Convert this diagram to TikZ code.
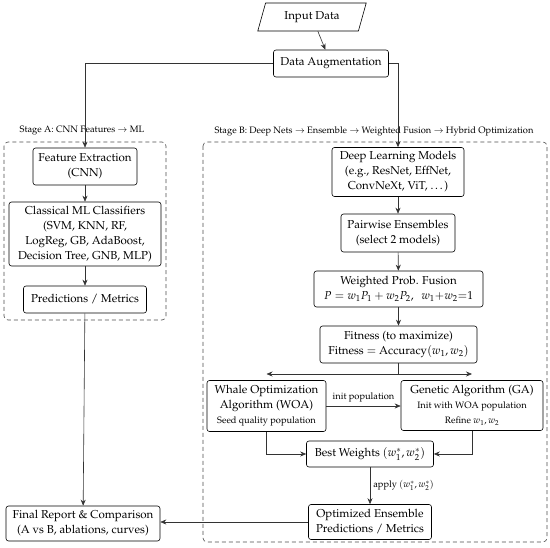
\documentclass[tikz,border=0pt]{standalone}
\usepackage[T1]{fontenc}
\usepackage{mathpazo}
\usetikzlibrary{arrows.meta,shapes.geometric,positioning}
\newcommand\mainfs{\fontsize{11.5}{15}\selectfont}
\newcommand\smallfs{\fontsize{9.3}{13}\selectfont}
\tikzset{
  box/.style={draw, rounded corners=2.5pt, align=center, inner sep=1pt, font=\mainfs, line width=0.6pt},
  conn/.style={line width=0.6pt, draw=black!80},
  arr/.style={conn, -{Stealth[length=6pt,width=5pt]}},
  darr/.style={conn, {Stealth[length=6pt,width=5pt]}-{Stealth[length=6pt,width=5pt]}},
  stagebox/.style={draw=black!70, dash pattern=on 4pt off 3pt, rounded corners=4pt, line width=0.6pt},
  lbl/.style={font=\smallfs, inner sep=1pt},
}
\begin{document}
\begin{tikzpicture}[x=1pt,y=-1pt]
\useasboundingbox (0,0) rectangle (550,548);
% stage frames
\draw[stagebox] (4,142) rectangle (166,320);
\draw[stagebox] (203,142) rectangle (547,542);
\node[lbl] (sA) at (82,131) {Stage A: CNN Features $\rightarrow$ ML};
\node[lbl] (sB) at (374,131) {Stage B: Deep Nets $\rightarrow$ Ensemble $\rightarrow$ Weighted Fusion $\rightarrow$ Hybrid Optimization};
% nodes
\node[draw, line width=0.6pt, trapezium, trapezium left angle=70, trapezium right angle=110, trapezium stretches=true, minimum width=109, minimum height=28, font=\mainfs, inner sep=1pt] (in) at (312,17) {Input Data};
\node[box, minimum width=115, minimum height=27] (aug) at (331,63.5) {Data Augmentation};
\node[box, minimum width=104, minimum height=37] (fe) at (85,166.5) {Feature Extraction\\(CNN)};
\node[box, minimum width=152, minimum height=64] (cml) at (85,234) {Classical ML Classifiers\\(SVM, KNN, RF,\\LogReg, GB, AdaBoost,\\Decision Tree, GNB, MLP)};
\node[box, minimum width=123, minimum height=27] (pm) at (85,299.5) {Predictions / Metrics};
\node[box, minimum width=154, minimum height=35] (fin) at (83,523.5) {Final Report \& Comparison\\(A vs B, ablations, curves)};
\node[box, minimum width=132, minimum height=49] (dl) at (398,172) {Deep Learning Models\\(e.g., ResNet, EffNet,\\ConvNeXt, ViT, \dots)};
\node[box, minimum width=114, minimum height=38] (pe) at (398,233) {Pairwise Ensembles\\(select 2 models)};
\node[box, minimum width=169, minimum height=36] (wpf) at (398.5,289) {Weighted Prob. Fusion\\$P = w_1P_1 + w_2P_2,\ \ w_1{+}w_2{=}1$};
\node[box, minimum width=157, minimum height=37] (fit) at (398.5,344.5) {Fitness (to maximize)\\Fitness $=$ Accuracy$(w_1,w_2)$};
\node[box, minimum width=119, minimum height=51] (woa) at (266.5,406) {Whale Optimization\\Algorithm (WOA)\\{\smallfs Seed quality population}};
\node[box, minimum width=142, minimum height=50] (ga) at (472,405.5) {Genetic Algorithm (GA)\\{\smallfs Init with WOA population}\\{\smallfs Refine $w_1, w_2$}};
\node[box, minimum width=127, minimum height=26] (bw) at (370,454) {Best Weights $(w_1^*, w_2^*)$};
\node[box, minimum width=123, minimum height=35] (oe) at (370,522) {Optimized Ensemble\\Predictions / Metrics};
\coordinate (sp) at (398.5,374);
% connectors
\draw[arr] (in) -- (aug);
\draw[arr] (aug.west) -| (fe.north);
\draw[arr] (aug.east) -| (dl.north);
\draw[arr] (fe) -- (cml);
\draw[arr] (cml) -- (pm);
\draw[arr] (pm) -- (fin);
\draw[arr] (dl) -- (pe);
\draw[arr] (pe) -- (wpf);
\draw[arr] (wpf) -- (fit);
\draw[conn] (fit.south) -- (sp);
\draw[darr] (woa.north |- sp) -- (ga.north |- sp);
\draw[arr] (woa.east) -- node[lbl, above=3pt] {init population} (woa.east -| ga.west);
\draw[arr] (woa.south) |- (bw.west);
\draw[arr] (ga.south) |- (bw.east);
\draw[arr] (bw) -- node[lbl, right=2pt] {apply $(w_1^*, w_2^*)$} (oe);
\draw[arr] (oe.west) -- (oe.west -| fin.east);
\end{tikzpicture}
\end{document}
